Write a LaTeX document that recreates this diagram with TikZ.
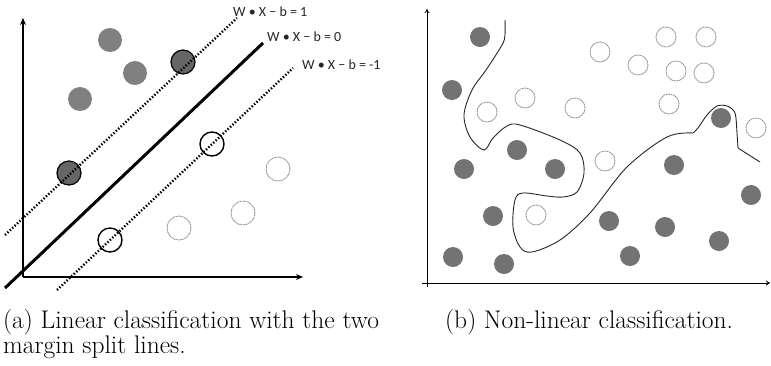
\documentclass[tikz,border=0pt]{standalone}
\usepackage{fontspec}
\newfontfamily\lblfont{Carlito}
\usetikzlibrary{arrows.meta}
\tikzset{
  axisL/.style={line width=1.3pt,-{Stealth[length=7pt,width=6pt]}},
  axisR/.style={line width=0.8pt,-{To[length=4pt,width=5pt]}},
  fillpt/.style={circle,fill=gray!100!white,fill opacity=1,inner sep=0pt,minimum size=24pt,draw=none},
  fillR/.style={circle,fill=black!55,inner sep=0pt,minimum size=20pt,draw=none},
  svpos/.style={circle,fill=black!60,draw=black,line width=1.2pt,inner sep=0pt,minimum size=24pt},
  svneg/.style={circle,draw=black,line width=1.4pt,inner sep=0pt,minimum size=24pt},
  openpt/.style={circle,draw=black!45,line width=0.9pt,dash pattern=on 1pt off 0.6pt,inner sep=0pt,minimum size=24pt},
  openR/.style={circle,draw=black!45,line width=0.9pt,dash pattern=on 1pt off 0.6pt,inner sep=0pt,minimum size=20pt},
  margin/.style={line width=2.4pt,dash pattern=on 1.4pt off 1.9pt},
  hyper/.style={line width=3pt},
  eqlbl/.style={font=\lblfont\fontsize{14}{16}\selectfont,text=black!85,inner sep=0pt,anchor=west},
  captxt/.style={font=\fontsize{25.5}{30}\selectfont,inner sep=0pt,anchor=base west},
  boundary/.style={line width=0.9pt,black!85}
}
\begin{document}
\begin{tikzpicture}[x=1pt,y=-1pt]
\useasboundingbox (0,0) rectangle (771,365);
% ---------- left panel ----------
\coordinate (oL) at (23,277);
\coordinate (yL) at (23,18);
\coordinate (xL) at (303,277);
\draw[axisL] (oL) -- (yL);
\draw[axisL] (oL) -- (xL);
% points
\node[fillpt] (a1) at (110,40) {};
\node[fillpt] (a2) at (135,73) {};
\node[fillpt] (a3) at (80,99) {};
\node[svpos] (s1) at (183,62) {};
\node[svpos] (s2) at (69,173) {};
\node[svneg] (s3) at (212,144) {};
\node[svneg] (s4) at (110,240) {};
\node[openpt] (b1) at (278,169) {};
\node[openpt] (b2) at (243,213) {};
\node[openpt] (b3) at (179,228) {};
% lines
\coordinate (u1) at (5,235);
\coordinate (u2) at (237,18);
\coordinate (h1) at (5,288);
\coordinate (h2) at (263,43);
\coordinate (l1) at (57,290);
\coordinate (l2) at (293,68);
\draw[margin] (u1) -- (u2);
\draw[hyper] (h1) -- (h2);
\draw[margin] (l1) -- (l2);
\node[eqlbl] (e1) at (233,12) {W • X − b = 1};
\node[eqlbl] (e0) at (267,37) {W • X − b = 0};
\node[eqlbl] (em) at (302,65) {W • X − b = -1};
% ---------- right panel ----------
\coordinate (yb) at (427,287);
\coordinate (yt) at (427,9);
\coordinate (xa) at (422,283);
\coordinate (xb) at (770,283);
\draw[axisR] (yb) -- (yt);
\draw[axisR] (xa) -- (xb);
% filled
\foreach \n/\p in {f1/{(480,37)},f2/{(452,90)},f3/{(517,150)},f4/{(464,169)},f5/{(555,169)},
  f6/{(493,216)},f7/{(453,257)},f8/{(504,264)},f9/{(609,221)},f10/{(630,256)},f11/{(665,227)},
  f12/{(674,165)},f13/{(721,118)},f14/{(751,195)},f15/{(719,241)}}
  \node[fillR] (\n) at \p {};
% open
\foreach \n/\p in {o1/{(600,52)},o2/{(638,65)},o3/{(666,37)},o4/{(706,37)},o5/{(676,71)},
  o6/{(704,73)},o7/{(525,98)},o8/{(487,112)},o9/{(575,108)},o10/{(669,104)},o11/{(605,161)},
  o12/{(536,215)},o13/{(756,128)}}
  \node[openR] (\n) at \p {};
% boundary
\draw[boundary] plot[smooth,tension=0.55] coordinates {(505,20) (505,35) (502,45) (486,70) (472,90) (464,115) (470,137) (484,150) (493,138) (507,126) (520,125) (560,140) (580,153) (584,173) (577,192) (563,197) (547,196) (523,193) (515,200) (513,227) (520,247) (532,252) (560,240) (590,213) (627,167) (667,137) (693,133)};
\coordinate (c1) at (693,133);
\coordinate (c2) at (738,148);
\coordinate (c3) at (760,162);
\draw[boundary] plot[smooth,tension=0.5] coordinates {(693,133) (698,128) (707,115) (717,106) (727,106) (735,113) (737,133) (738,148)};
\draw[boundary] (c2) -- (c3);
% ---------- captions ----------
\node[captxt] (capa) at (3,328) {(a) Linear classification with the two};
\node[captxt] (capa2) at (3,353) {margin split lines.};
\node[captxt] (capb) at (445,328) {(b) Non-linear classification.};
\end{tikzpicture}
\end{document}
